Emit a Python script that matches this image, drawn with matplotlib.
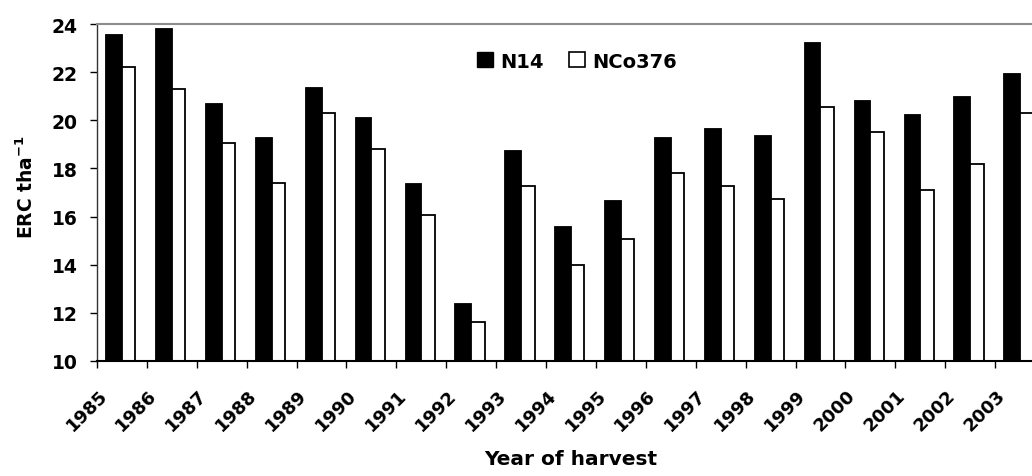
import matplotlib
matplotlib.use("Agg")
import matplotlib.pyplot as plt
from matplotlib.patches import Patch
from matplotlib.ticker import FixedLocator, NullFormatter
import numpy as np

years = ["1985", "1986", "1987", "1988", "1989", "1990", "1991", "1992", "1993", "1994",
         "1995", "1996", "1997", "1998", "1999", "2000", "2001", "2002", "2003"]
n14 = [23.6, 23.85, 20.7, 19.3, 21.4, 20.15, 17.4, 12.4, 18.75, 15.6,
       16.7, 19.3, 19.7, 19.4, 23.25, 20.85, 20.25, 21.0, 21.95]
nco376 = [22.2, 21.3, 19.05, 17.4, 20.3, 18.8, 16.05, 11.6, 17.25, 14.0,
          15.05, 17.8, 17.25, 16.75, 20.55, 19.5, 17.1, 18.2, 20.3]
yticks = [10, 12, 14, 16, 18, 20, 22, 24]

plt.rcParams['font.family'] = ['DejaVu Sans']
plt.rcParams['font.weight'] = 'bold'

W, H = 1032, 477
fig = plt.figure(figsize=(W / 100, H / 100), dpi=100)
ax_left, ax_right, ax_top, ax_bottom = 97, 1045, 25, 362
ax = fig.add_axes([ax_left / W, (H - ax_bottom) / H, (ax_right - ax_left) / W, (ax_bottom - ax_top) / H])

x = np.arange(len(years))
black_start, split, white_end = 0.165, 0.50, 0.77
ax.bar(x + black_start, np.array(n14) - 10, bottom=10, width=split - black_start, align='edge',
       color='black', edgecolor='black', linewidth=0.6, zorder=2)
ax.bar(x + split, np.array(nco376) - 10, bottom=10, width=white_end - split, align='edge',
       color='white', edgecolor='black', linewidth=1.3, zorder=2)

ax.set_xlim(0, len(years))
ax.set_ylim(10, 24)

# y axis
ax.set_yticks(yticks)
ax.set_yticklabels([str(t) for t in yticks])
ax.tick_params(axis='y', direction='out', length=5, width=1, pad=9, labelsize=13.5, colors='black')

# x axis: boundary ticks (major), labels (minor)
ax.xaxis.set_major_locator(FixedLocator(np.arange(len(years) + 1)))
ax.xaxis.set_major_formatter(NullFormatter())
ax.tick_params(axis='x', which='major', direction='out', length=5, width=1)
label_shift = 0.48  # shift of rotated label anchor left of category centre
ax.xaxis.set_minor_locator(FixedLocator(x + 0.5 - label_shift))
ax.set_xticklabels(years, minor=True, rotation=45, ha='right', va='top', rotation_mode='anchor',
                   fontsize=13, fontweight='bold')
ax.tick_params(axis='x', which='minor', length=0, pad=18)

ax.spines['right'].set_visible(False)
ax.spines['top'].set_color('#8c8c8c')
ax.spines['top'].set_linewidth(1.5)
ax.spines['left'].set_color('#333333')
ax.spines['left'].set_linewidth(1.0)
ax.spines['bottom'].set_color('black')
ax.spines['bottom'].set_linewidth(1.5)

ax.set_xlabel("Year of harvest", fontsize=14.5, fontweight='bold')
ax.xaxis.set_label_coords(0.5, -0.26)
ax.set_ylabel("ERC tha$^{\\mathbf{-1}}$", fontsize=13.5, fontweight='bold', va='center')
ax.yaxis.set_label_coords(-0.075, 0.52)

handles = [Patch(facecolor='black', edgecolor='black', label='N14'),
           Patch(facecolor='white', edgecolor='black', linewidth=1.2, label='NCo376')]
fig.legend(handles=handles, loc='center left', bbox_to_anchor=(477 / W, 1 - 62 / H), ncol=2,
           frameon=False, borderpad=0, borderaxespad=0, handlelength=0.8, handleheight=0.8,
           handletextpad=0.4, columnspacing=1.3, prop={'size': 14, 'weight': 'bold'})

fig.savefig("out.png", dpi=100)
